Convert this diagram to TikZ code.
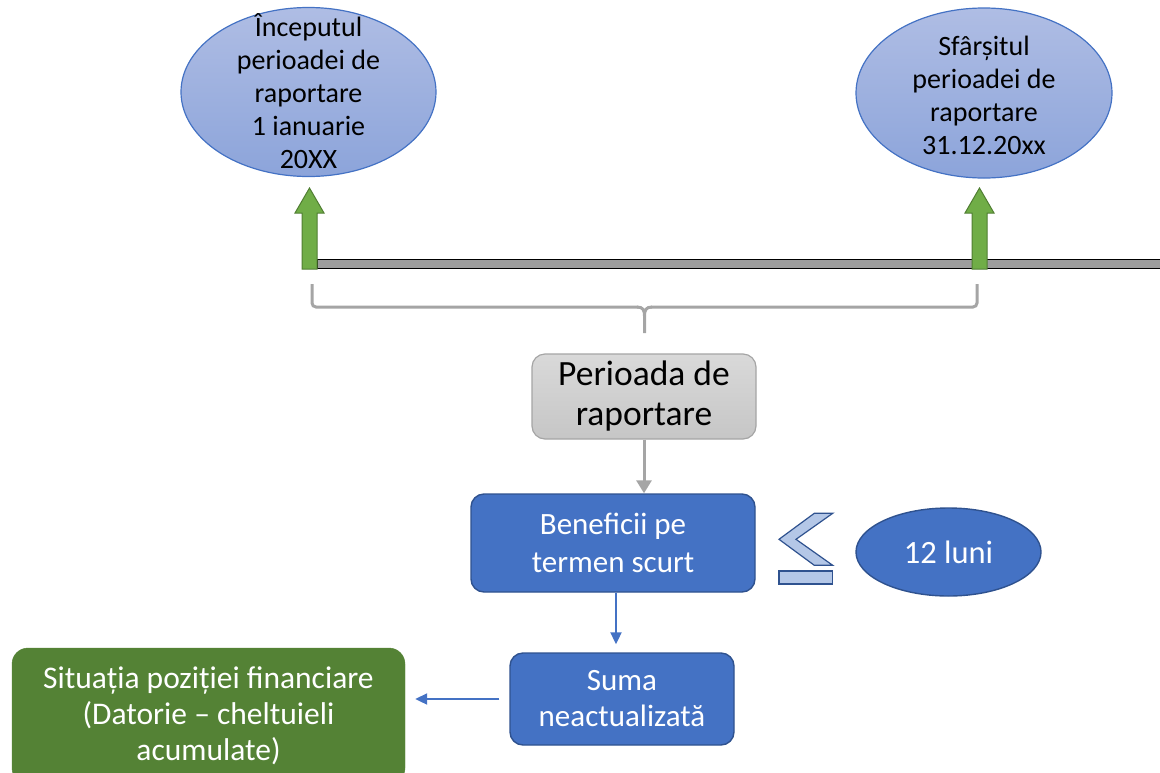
\documentclass[tikz,border=0pt]{standalone}
\usepackage{fontspec}
\setmainfont{Carlito}
\usetikzlibrary{shapes.geometric,arrows.meta}
\definecolor{ellTop}{HTML}{AFBDE4}
\definecolor{ellBot}{HTML}{8CA4DA}
\definecolor{msBlue}{HTML}{4472C4}
\definecolor{msBlueDark}{HTML}{2F528F}
\definecolor{msGreen}{HTML}{548235}
\definecolor{arrGreen}{HTML}{70AD47}
\definecolor{arrGreenDark}{HTML}{507E32}
\definecolor{msGray}{HTML}{A5A5A5}
\definecolor{boxGrayTop}{HTML}{D9D9D9}
\definecolor{boxGrayBot}{HTML}{C6C6C6}
\definecolor{lightBlue}{HTML}{B4C7E7}
\begin{document}
\begin{tikzpicture}[x=1pt,y=-1pt,
  ell/.style={ellipse, draw=msBlue, line width=1.2pt, top color=ellTop, bottom color=ellBot, inner sep=0pt},
  elltext/.style={align=center, text=black, font=\fontsize{28}{33}\selectfont, inner sep=0pt},
  garrow/.style={fill=arrGreen, draw=arrGreenDark, line width=1pt},
  graybox/.style={rectangle, rounded corners=13pt, draw=msGray, line width=1.2pt, top color=boxGrayTop, bottom color=boxGrayBot, align=center, font=\fontsize{35.5}{40}\selectfont, inner sep=0pt},
  bluebox/.style={rectangle, rounded corners=13pt, draw=msBlueDark, line width=1.4pt, fill=msBlue, text=white, align=center, inner sep=0pt},
  greenbox/.style={rectangle, rounded corners=16pt, draw=msGreen, fill=msGreen, text=white, align=center, inner sep=0pt, font=\fontsize{31.5}{36}\selectfont},
  bracestyle/.style={draw=msGray, line width=3pt, rounded corners=4pt},
  grayarrow/.style={draw=msGray, line width=3pt, -{Triangle[length=13pt,width=15pt]}},
  bluearrow/.style={draw=msBlue, line width=2pt, -{Triangle[length=12pt,width=11pt]}},
  symb/.style={fill=lightBlue, draw=msBlueDark, line width=1.2pt, line join=miter}
]
\useasboundingbox (0,0) rectangle (1160,772);

% ellipses top
\node[ell, minimum width=255pt, minimum height=169pt] (e1) at (308.5,92) {};
\node[elltext] (t1) at (308.5,91) {Începutul\\perioadei de\\raportare\\1 ianuarie\\20XX};
\node[ell, minimum width=256pt, minimum height=170pt] (e2) at (984,93) {};
\node[elltext] (t2) at (984,95) {Sfârșitul\\perioadei de\\raportare\\31.12.20xx};

% timeline bar
\draw[fill=msGray!95!black, draw=black, line width=1.2pt] (317,259.5) rectangle (1164,268.5);

% green up arrows
\foreach \cx in {309.5,979.5}{
  \draw[garrow] (\cx-7.5,269) -- (\cx-7.5,213) -- (\cx-14.5,213) -- (\cx,188) -- (\cx+14.5,213) -- (\cx+7.5,213) -- (\cx+7.5,269) -- cycle;
}

% brace
\coordinate (bl) at (312,284);
\coordinate (br) at (977,284);
\coordinate (btip) at (644.5,333);
\draw[bracestyle] (bl) -- (312,307) -- (638,307);
\draw[bracestyle] (br) -- (977,307) -- (651,307);
\draw[draw=msGray, line width=3pt] (637,307) .. controls (643,307) and (644.5,310) .. (644.5,316) -- (btip);
\draw[draw=msGray, line width=3pt] (652,307) .. controls (646,307) and (644.5,310) .. (644.5,316);

% boxes
\node[graybox, minimum width=224pt, minimum height=85pt] (per) at (644,396.5) {Perioada de\\raportare};
\node[bluebox, minimum width=284pt, minimum height=98pt, font=\fontsize{31}{38}\selectfont] (ben) at (613,543) {Beneficii pe\\termen scurt};
\node[bluebox, minimum width=224pt, minimum height=92pt, font=\fontsize{31}{36}\selectfont] (suma) at (622,699) {Suma\\neactualizată};
\node[greenbox, minimum width=393pt, minimum height=136pt] (sit) at (208.5,716) {Situația poziției financiare\\(Datorie – cheltuieli\\acumulate)};

% 12 luni ellipse
\node[ellipse, draw=msBlueDark, line width=1.4pt, fill=msBlue, minimum width=185pt, minimum height=88pt, inner sep=0pt, text=white, font=\fontsize{32.5}{38}\selectfont] (luni) at (948.5,552) {12 luni};

% less-or-equal symbol
\draw[symb] (814.3,513.3) -- (832.7,513.3) -- (796,539.3) -- (832.7,565.3) -- (814.3,565.3) -- (779,539.3) -- cycle;
\draw[symb] (779,571) rectangle (832.7,584);

% connectors
\draw[grayarrow] (per.south) -- (per.south |- ben.north);
\draw[bluearrow, shorten >=8pt] ([xshift=3pt]ben.south) -- ([xshift=3pt]ben.south |- suma.north);
\draw[bluearrow, shorten <=10pt, shorten >=10pt] (suma.west) -- (suma.west -| sit.east);
\end{tikzpicture}
\end{document}
